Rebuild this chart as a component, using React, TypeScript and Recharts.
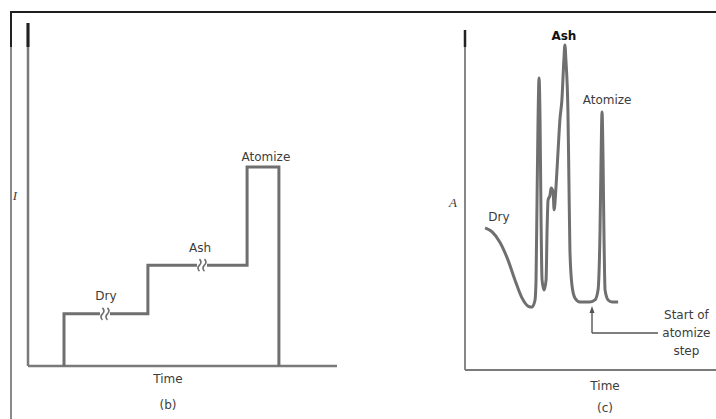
import React from 'react';
import { LineChart, Line, XAxis, YAxis, ReferenceDot, ReferenceLine } from 'recharts';

// Panel (b): heating program (current vs time), arbitrary units 0-100
const stepTime = [11.65, 11.65, 38.8, 38.8, 70.9, 70.9, 81.2, 81.2];
const stepLevel = [0, 15.2, 15.2, 29.4, 29.4, 58.0, 58.0, 0];
const stepData = stepTime.map((t, i) => ({ t, v: stepLevel[i] }));

// Panel (c): absorbance vs time, arbitrary units 0-100
const absTime = [
  8.0, 10.8, 13.9, 17.1, 19.9, 22.7, 25.1, 26.7, 27.9, 28.3, 28.7, 29.1, 29.5, 29.9, 30.3, 30.7,
  31.5, 32.3, 32.7, 33.1, 33.9, 34.3, 35.1, 35.5, 36.3, 37.1, 37.8, 38.6, 39.4, 39.8, 40.2, 41.0,
  41.4, 41.8, 42.6, 43.8, 45.8, 49.8, 51.8, 53.0, 53.8, 54.2, 54.6, 55.0, 55.4, 55.8, 57.0, 58.6, 61.0,
];
const absValue = [
  41.8, 40.6, 37.6, 32.4, 26.5, 21.2, 18.8, 18.5, 20.6, 26.5, 50.0, 73.5, 85.9, 73.5, 44.1, 26.5,
  23.5, 26.5, 41.2, 50.0, 51.5, 53.5, 52.4, 47.1, 54.4, 64.7, 73.5, 79.4, 91.2, 95.6, 91.2, 76.5,
  55.9, 35.3, 25.0, 21.2, 20.0, 20.0, 20.6, 23.5, 41.2, 61.8, 75.9, 61.8, 38.2, 23.5, 20.6, 20.0, 20.0,
];
const absData = absTime.map((t, i) => ({ t, v: absValue[i] }));

// Text labels
const stepLabels = [
  { text: 'Dry', t: 25.2, v: 20.4 },
  { text: 'Ash', t: 55.7, v: 34.4 },
  { text: 'Atomize', t: 77.0, v: 61.0 },
];
const stepBreaks = [
  { t: 24.9, v: 15.2 },
  { t: 56.3, v: 29.4 },
];
const absLabels = [
  { text: 'Dry', t: 13.5, v: 45.0, bold: false },
  { text: 'Ash', t: 39.4, v: 98.2, bold: true },
  { text: 'Atomize', t: 56.6, v: 79.4, bold: false },
];
const noteLines = ['Start of', 'atomize', 'step'];

const LINE = '#6f6f6f';
const AXIS = '#7a7a7a';
const TEXT = '#3c3c3c';
const FONT = 'DejaVu Sans';

const lbl = (value: string, extra: any = {}) => ({
  value,
  position: 'center' as const,
  fill: TEXT,
  fontSize: 12,
  fontFamily: FONT,
  ...extra,
});

const BreakMark = (props: any) => {
  const { cx, cy } = props;
  if (cx == null || cy == null) return null;
  const wig = (x: number) => `M${x},${cy - 6} q3,3 0,6 q-3,3 0,6`;
  return (
    <g>
      <rect x={cx - 5} y={cy - 4} width={10} height={8} fill="#fff" />
      <path d={wig(cx - 2.5)} stroke={LINE} strokeWidth={1.6} fill="none" />
      <path d={wig(cx + 2.5)} stroke={LINE} strokeWidth={1.6} fill="none" />
    </g>
  );
};

const ArrowUp = (props: any) => {
  const { cx, cy } = props;
  if (cx == null || cy == null) return null;
  return <path d={`M${cx},${cy} L${cx - 2.5},${cy + 7} L${cx + 2.5},${cy + 7} Z`} fill="#555" />;
};

export default function App() {
  return (
    <div style={{ position: 'absolute', left: 0, top: 0, width: 716, height: 419, background: '#fff', overflow: 'hidden' }}>
      {/* frame */}
      <div style={{ position: 'absolute', left: 11, top: 11, width: 705, height: 0, borderTop: '2px solid #1e1e1e' }} />
      <div style={{ position: 'absolute', left: 10, top: 11, width: 0, height: 408, borderLeft: '2px solid #8a8a8a' }} />
      <div style={{ position: 'absolute', left: 10, top: 11, width: 0, height: 36, borderLeft: '2px solid #222' }} />

      {/* panel (b) */}
      <div style={{ position: 'absolute', left: 0, top: 0 }}>
        <LineChart width={360} height={419} data={stepData} margin={{ top: 23, right: 23, bottom: 53, left: 28 }}>
          <XAxis type="number" dataKey="t" domain={[0, 100]} hide allowDataOverflow />
          <YAxis type="number" domain={[0, 100]} hide allowDataOverflow />
          <ReferenceLine x={0} stroke={AXIS} strokeWidth={2.5} ifOverflow="visible" />
          <ReferenceLine y={0} stroke={AXIS} strokeWidth={2.5} ifOverflow="visible" />
          <ReferenceLine segment={[{ x: 0, y: 100 }, { x: 0, y: 93 }]} stroke="#222" strokeWidth={3} ifOverflow="visible" />
          <Line type="linear" dataKey="v" stroke={LINE} strokeWidth={3} dot={false} isAnimationActive={false} />
          {stepBreaks.map((b, i) => (
            <ReferenceDot key={'br' + i} x={b.t} y={b.v} r={4} shape={BreakMark} ifOverflow="visible" />
          ))}
          {stepLabels.map((l, i) => (
            <ReferenceDot key={'sl' + i} x={l.t} y={l.v} r={0} fill="none" stroke="none" ifOverflow="visible" label={lbl(l.text)} />
          ))}
          <ReferenceDot x={45.3} y={-3.8} r={0} fill="none" stroke="none" ifOverflow="visible" label={lbl('Time')} />
          <ReferenceDot x={45.3} y={-11.4} r={0} fill="none" stroke="none" ifOverflow="visible" label={lbl('(b)')} />
          <ReferenceDot x={-4.2} y={49.6} r={0} fill="none" stroke="none" ifOverflow="visible"
            label={lbl('I', { fontFamily: 'Liberation Serif', fontStyle: 'italic', fontSize: 13 })} />
        </LineChart>
      </div>

      {/* panel (c) */}
      <div style={{ position: 'absolute', left: 400, top: 0 }}>
        <LineChart width={316} height={419} data={absData} margin={{ top: 30, right: 0, bottom: 49, left: 65 }}>
          <XAxis type="number" dataKey="t" domain={[0, 100]} hide allowDataOverflow />
          <YAxis type="number" domain={[0, 100]} hide allowDataOverflow />
          <ReferenceLine x={0} stroke="#6a6a6a" strokeWidth={1.6} ifOverflow="visible" />
          <ReferenceLine y={0} stroke={AXIS} strokeWidth={2} ifOverflow="visible" />
          <ReferenceLine segment={[{ x: 0, y: 100 }, { x: 0, y: 95 }]} stroke="#222" strokeWidth={2.5} ifOverflow="visible" />
          <ReferenceLine segment={[{ x: 50.6, y: 17.5 }, { x: 50.6, y: 10.9 }]} stroke="#555" strokeWidth={1.4} ifOverflow="visible" />
          <ReferenceLine segment={[{ x: 50.6, y: 10.9 }, { x: 76.9, y: 10.9 }]} stroke="#555" strokeWidth={1.4} ifOverflow="visible" />
          <ReferenceDot x={50.6} y={18.8} r={3} shape={ArrowUp} ifOverflow="visible" />
          <Line type="monotone" dataKey="v" stroke={LINE} strokeWidth={3} dot={false} isAnimationActive={false} />
          {absLabels.map((l, i) => (
            <ReferenceDot key={'al' + i} x={l.t} y={l.v} r={0} fill="none" stroke="none" ifOverflow="visible"
              label={lbl(l.text, l.bold ? { fontWeight: 'bold', fill: '#111' } : {})} />
          ))}
          {noteLines.map((s, i) => (
            <ReferenceDot key={'nl' + i} x={88.2} y={16.2 - i * 5.3} r={0} fill="none" stroke="none" ifOverflow="visible" label={lbl(s)} />
          ))}
          <ReferenceDot x={55.8} y={-4.7} r={0} fill="none" stroke="none" ifOverflow="visible" label={lbl('Time')} />
          <ReferenceDot x={55.8} y={-11.2} r={0} fill="none" stroke="none" ifOverflow="visible" label={lbl('(c)')} />
          <ReferenceDot x={-4.8} y={49.4} r={0} fill="none" stroke="none" ifOverflow="visible"
            label={lbl('A', { fontFamily: 'Liberation Serif', fontStyle: 'italic', fontSize: 13 })} />
        </LineChart>
      </div>
    </div>
  );
}
